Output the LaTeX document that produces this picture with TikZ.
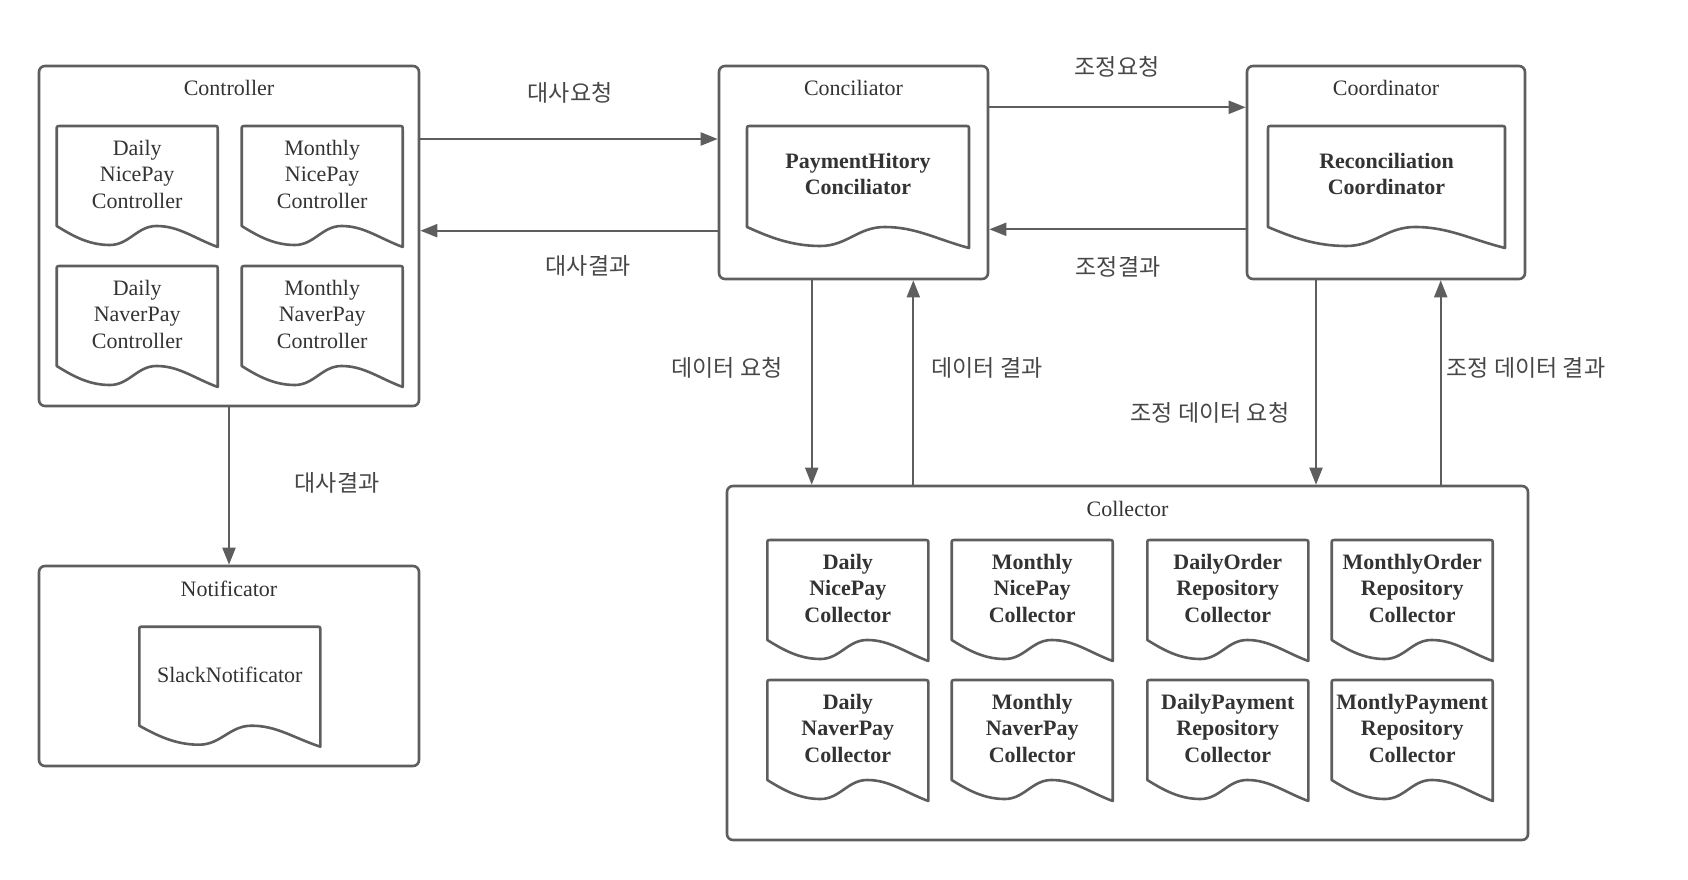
\documentclass[tikz,border=0pt]{standalone}
\usepackage{fontspec}
\setmainfont{Liberation Serif}
\newfontfamily\krfont{Noto Sans CJK KR}
\usetikzlibrary{arrows.meta}
\definecolor{ln}{HTML}{5E5E5E}
\definecolor{tx}{HTML}{333333}
\tikzset{
  box/.style={draw=ln, line width=2.6pt, rounded corners=6pt, inner sep=0pt},
  docline/.style={draw=ln, line width=2.6pt, line join=round},
  doctext/.style={align=center, text=tx, font=\fontsize{22}{26.5}\selectfont, inner sep=0pt},
  bold/.style={font=\fontsize{22}{26.5}\selectfont\bfseries},
  title/.style={text=tx, font=\fontsize{22}{26.5}\selectfont, anchor=base, inner sep=0pt},
  lbl/.style={text=tx!90, font=\krfont\fontsize{23}{27}\selectfont, inner sep=0pt},
  arr/.style={draw=ln, line width=2pt, -{Triangle[length=17pt,width=13pt]}},
}
% name, x, y, w, h, text, extra style
\newcommand\mydoc[7]{%
  \draw[docline] (#2,{#3+#5}) -- (#2,{#3+4}) .. controls (#2,#3) .. ({#2+4},#3)
    -- ({#2+#4-4},#3) .. controls ({#2+#4},#3) .. ({#2+#4},{#3+4})
    -- ({#2+#4},{#3+#5+21})
    .. controls ({#2+0.85*#4},{#3+#5+12}) and ({#2+0.76*#4},{#3+#5}) .. ({#2+0.62*#4},{#3+#5})
    .. controls ({#2+0.5*#4},{#3+#5}) and ({#2+0.45*#4},{#3+#5+19}) .. ({#2+0.33*#4},{#3+#5+19})
    .. controls ({#2+0.2*#4},{#3+#5+19}) and ({#2+0.1*#4},{#3+#5+10}) .. (#2,{#3+#5}) -- cycle;
  \node[doctext,#7] (#1) at ({#2+#4/2},{#3+48}) {#6};
}
\begin{document}
\begin{tikzpicture}[x=1pt,y=-1pt]
\useasboundingbox[fill=white] (0,0) rectangle (1688,880);

% outer boxes
\node[box, minimum width=380pt, minimum height=340pt] (ctrl) at (229,236) {};
\node[box, minimum width=269pt, minimum height=213pt] (conc) at (853.5,172.5) {};
\node[box, minimum width=278pt, minimum height=213pt] (coord) at (1386,172.5) {};
\node[box, minimum width=801pt, minimum height=354pt] (coll) at (1127.5,663) {};
\node[box, minimum width=380pt, minimum height=200pt] (noti) at (229,666) {};

% titles
\node[title] (tctrl) at (229,96) {Controller};
\node[title] (tconc) at (853.5,96) {Conciliator};
\node[title] (tcoord) at (1386,96) {Coordinator};
\node[title] (tcoll) at (1127.5,516) {Collector};
\node[title] (tnoti) at (229,596) {Notificator};

% controller docs
\mydoc{c1}{56.7}{126}{161}{100}{Daily\\NicePay\\Controller}{}
\mydoc{c2}{241.7}{126}{161}{100}{Monthly\\NicePay\\Controller}{}
\mydoc{c3}{56.7}{266}{161}{100}{Daily\\NaverPay\\Controller}{}
\mydoc{c4}{241.7}{266}{161}{100}{Monthly\\NaverPay\\Controller}{}

% conciliator / coordinator docs
\mydoc{pc}{747}{126}{222}{101}{PaymentHitory\\Conciliator}{bold}
\mydoc{rc}{1268}{126}{237}{101}{Reconciliation\\Coordinator}{bold}

% collector docs
\mydoc{k1}{767.3}{540}{161}{100}{Daily\\NicePay\\Collector}{bold}
\mydoc{k2}{951.7}{540}{161}{100}{Monthly\\NicePay\\Collector}{bold}
\mydoc{k3}{1147.3}{540}{161}{100}{DailyOrder\\Repository\\Collector}{bold}
\mydoc{k4}{1331.7}{540}{161}{100}{MonthlyOrder\\Repository\\Collector}{bold}
\mydoc{k5}{767.3}{680}{161}{100}{Daily\\NaverPay\\Collector}{bold}
\mydoc{k6}{951.7}{680}{161}{100}{Monthly\\NaverPay\\Collector}{bold}
\mydoc{k7}{1147.3}{680}{161}{100}{DailyPayment\\Repository\\Collector}{bold}
\mydoc{k8}{1331.7}{680}{161}{100}{MontlyPayment\\Repository\\Collector}{bold}

% notificator doc
\mydoc{sn}{139.3}{626.7}{181}{99}{SlackNotificator}{}

% connectors
\draw[arr] (ctrl.east |- 0,139) -- (conc.west |- 0,139);
\draw[arr] (conc.west |- 0,230.7) -- (ctrl.east |- 0,230.7);
\draw[arr] (conc.east |- 0,107.3) -- (coord.west |- 0,107.3);
\draw[arr] (coord.west |- 0,229.3) -- (conc.east |- 0,229.3);
\draw[arr] (conc.south -| 811.7,0) -- (coll.north -| 811.7,0);
\draw[arr] (coll.north -| 913.3,0) -- (conc.south -| 913.3,0);
\draw[arr] (coord.south -| 1316,0) -- (coll.north -| 1316,0);
\draw[arr] (coll.north -| 1440.7,0) -- (coord.south -| 1440.7,0);
\draw[arr] (ctrl.south) -- (noti.north);

% labels
\node[lbl] (l1) at (570,93) {대사요청};
\node[lbl] (l2) at (588,266) {대사결과};
\node[lbl] (l3) at (1117,67) {조정요청};
\node[lbl] (l4) at (1118,267) {조정결과};
\node[lbl] (l5) at (727,368) {데이터 요청};
\node[lbl] (l6) at (987,368) {데이터 결과};
\node[lbl] (l7) at (1210,413) {조정 데이터 요청};
\node[lbl] (l8) at (1526,368) {조정 데이터 결과};
\node[lbl] (l9) at (337,483) {대사결과};
\end{tikzpicture}
\end{document}
